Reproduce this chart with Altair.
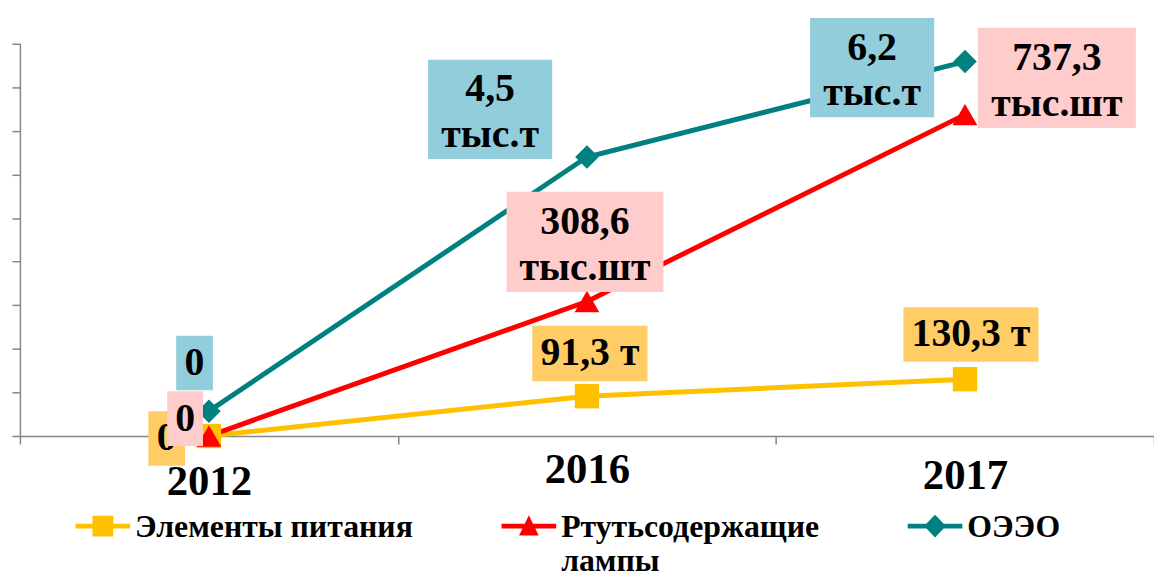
import altair as alt
import pandas as pd

# ---- data ----
years = ["2012", "2016", "2017"]
series = ["Элементы питания", "Ртутьсодержащие лампы", "ОЭЭО"]
batteries = [0, 91.3, 130.3]            # т
lamps = [0, 308.6, 737.3]               # тыс.шт
weee = [57, 640, 859]                   # plotted heights (axis units) of ОЭЭО
labels_batteries = ["0", "91,3 т", "130,3 т"]
labels_lamps = ["0", "308,6\nтыс.шт", "737,3\nтыс.шт"]
labels_weee = ["0", "4,5\nтыс.т", "6,2\nтыс.т"]
y_ticks = [0, 100, 200, 300, 400, 500, 600, 700, 800, 900]

# ---- styles ----
line_colors = ["#FFC000", "#FF0000", "#008080"]
label_bg = ["#FFCC66", "#FFCCCC", "#92CDDC"]
markers = ["square", "triangle-up", "diamond"]
marker_sizes = [600, 620, 560]
# label box placement per series/year: (dx, dy, w, h)
placement = [
    [(-42.5, 2.5, 37, 55), (3, -43, 116, 56), (6, -45, 136, 55)],
    [(-24, -17.5, 36, 55), (-2, -60, 158, 101), (92.5, -37, 159, 101)],
    [(-14.5, -48.5, 37, 55), (-97.5, -48, 125, 100), (-93.5, 6, 125, 100)],
]
# legend symbols: line + marker (custom paths)
legend_paths = [
    "M-1,-0.49H1V-0.31H-1Z M-0.38,-0.78H0.38V-0.02H-0.38Z",
    "M-1,-0.49H1V-0.31H-1Z M0,-0.8L0.36,-0.06H-0.36Z",
    "M-1,-0.49H1V-0.31H-1Z M0,-0.82L0.4,-0.4L0,0.02L-0.4,-0.4Z",
]

FONT = "Liberation Serif"

rows = []
for si, (vals, labs) in enumerate(zip([batteries, lamps, weee],
                                      [labels_batteries, labels_lamps, labels_weee])):
    for yi, yr in enumerate(years):
        dx, dy, w, h = placement[si][yi]
        rows.append(dict(year=yr, series=series[si], value=vals[yi], label=labs[yi],
                         lc=line_colors[si], marker=markers[si], msize=marker_sizes[si],
                         dx=dx, dy=dy, w=w, h=h, bg=label_bg[si]))
df = pd.DataFrame(rows)

x_enc = alt.X(
    "year:N", sort=years,
    scale=alt.Scale(domain=years, paddingInner=0, paddingOuter=0),
    axis=alt.Axis(
        title=None, labelAngle=0, labelFont=FONT, labelFontSize=43,
        labelFontWeight="bold", labelColor="black", tickBand="extent",
        tickSize=8, tickColor="#868686", domainColor="#868686",
        domainWidth=1.5, tickWidth=1.5, grid=False,
        labelPadding={"condition": [
            {"test": "datum.value === '2012'", "value": 17},
            {"test": "datum.value === '2017'", "value": 11}], "value": 5},
    ),
)
y_enc = alt.Y(
    "value:Q",
    scale=alt.Scale(domain=[0, 900], nice=False, zero=True),
    axis=alt.Axis(title=None, labels=False, values=y_ticks, tickSize=8,
                  tickColor="#868686", domainColor="#868686", domainWidth=1.5,
                  tickWidth=1.5, grid=False),
)

base = alt.Chart(df)

lines = base.mark_line(strokeWidth=5).encode(
    x=x_enc, y=y_enc,
    color=alt.Color("lc:N", scale=None),
    detail="series:N",
)

points = base.mark_point(filled=True, opacity=1).encode(
    x=x_enc, y=y_enc,
    color=alt.Color("lc:N", scale=None),
    shape=alt.Shape("marker:N", scale=None),
    size=alt.Size("msize:Q", scale=None),
)

label_layers = []
for r in rows:
    one = alt.Chart(pd.DataFrame([r]))
    label_layers.append(
        one.mark_rect(width=r["w"], height=r["h"], xOffset=r["dx"], yOffset=r["dy"],
                      color=r["bg"]).encode(x=x_enc, y=y_enc)
    )
    two_lines = "\n" in r["label"]
    label_layers.append(
        one.mark_text(dx=r["dx"], dy=(r["dy"] - 8) if two_lines else r["dy"],
                      font=FONT, fontSize=40,
                      fontWeight="bold", color="black", lineBreak="\n",
                      lineHeight=46,
                      baseline="alphabetic" if two_lines else "middle",
                      align="center")
        .encode(x=x_enc, y=y_enc, text="label:N")
    )

legend_kw = dict(
    title=None, orient="none", legendX=56, legendY=469, direction="horizontal",
    columns=3, columnPadding=89, labelFont=FONT, labelFontSize=32,
    labelFontWeight="bold", labelColor="black", labelLimit=500,
    labelBaseline="alphabetic", labelOffset=5, symbolSize=3025,
    symbolOpacity=1, symbolStrokeWidth=0, padding=0,
    labelExpr="indexof(datum.label, ' лампы') > 0 ? split(datum.label, ' ') : [datum.label, '']",
)

legend_layer = base.mark_point(filled=True, opacity=0).encode(
    x=x_enc, y=y_enc,
    color=alt.Color("series:N", scale=alt.Scale(domain=series, range=line_colors),
                    legend=alt.Legend(**legend_kw)),
    shape=alt.Shape("series:N", scale=alt.Scale(domain=series, range=legend_paths),
                    legend=alt.Legend(**legend_kw)),
)

chart = alt.layer(lines, points, *label_layers, legend_layer).properties(
    width=1142, height=395,
    padding={"left": 12, "top": 34, "right": 0, "bottom": 140},
    autosize=alt.AutoSizeParams(type="none"),
).configure_view(stroke=None).configure_legend(
    labelFont=FONT, labelFontSize=32, labelFontWeight="bold",
    labelColor="black", labelBaseline="alphabetic", labelLimit=500,
    labelOffset=5, symbolSize=3025, padding=0, columnPadding=89,
)

chart.save("out.html", embed_options={"renderer": "svg", "actions": False})
